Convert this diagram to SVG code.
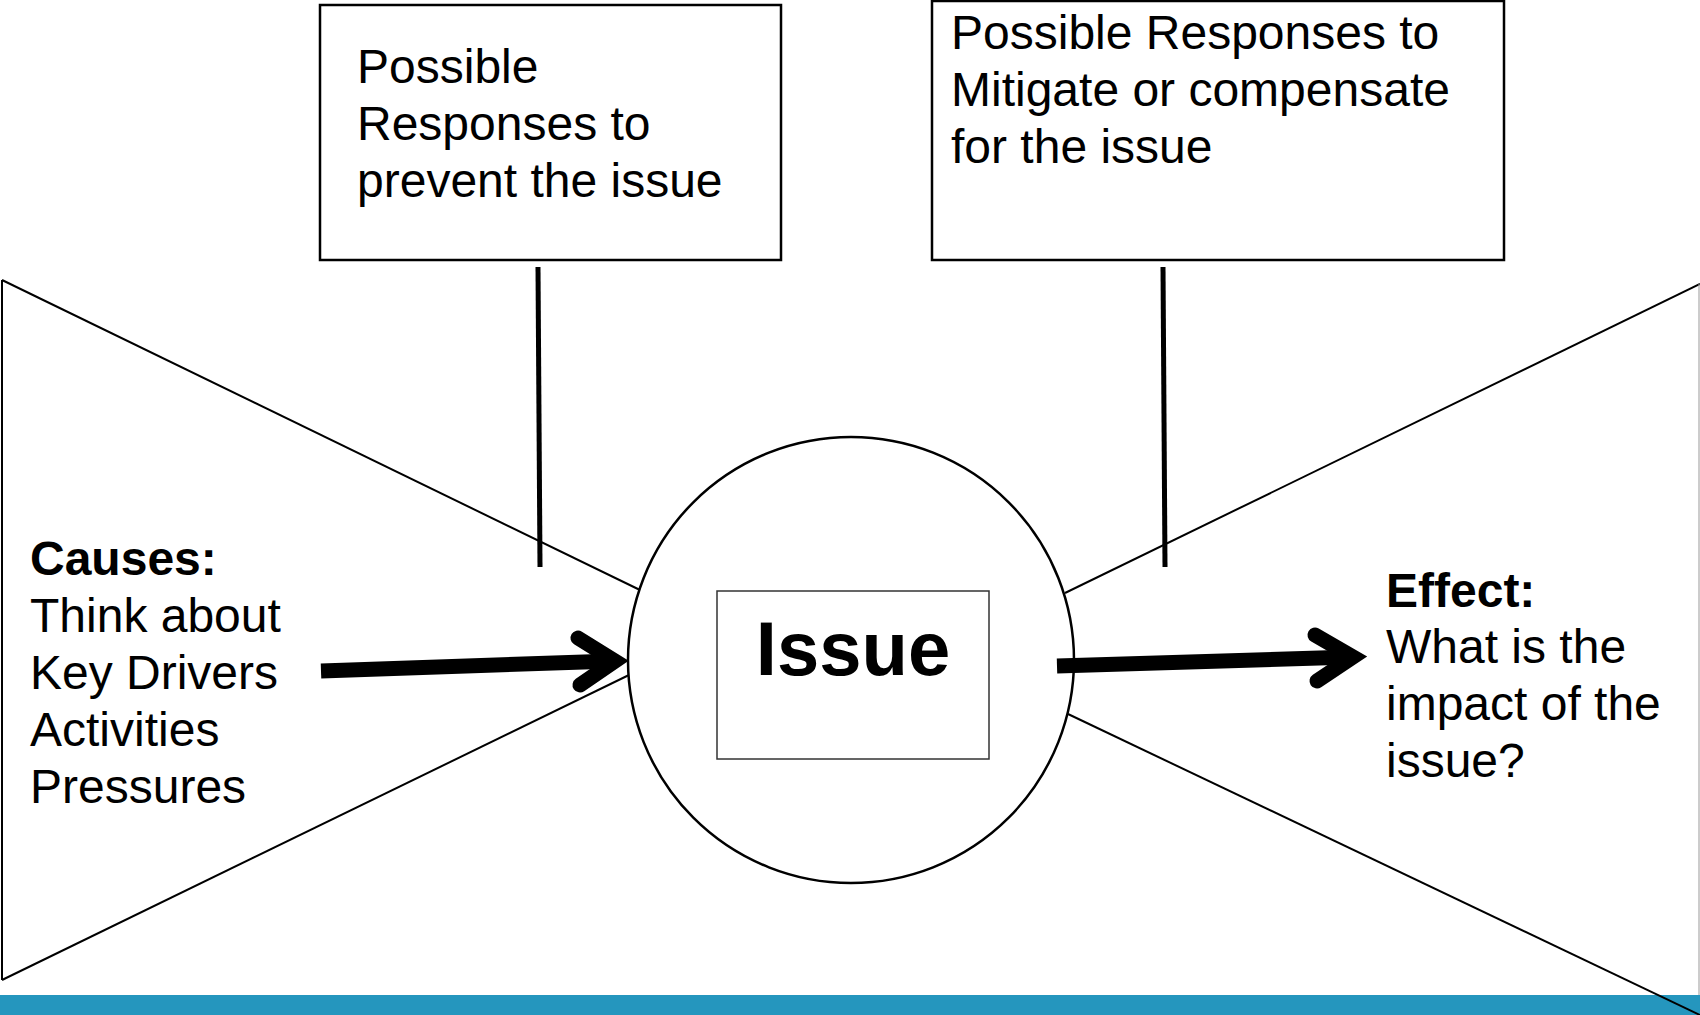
<svg xmlns="http://www.w3.org/2000/svg" width="1700" height="1015" viewBox="0 0 1700 1015">
<style>
  .t { font-family: "Liberation Sans", Arial, sans-serif; font-size: 48px; fill: #000; }
  .b { font-weight: bold; }
  .box { fill: #fff; stroke: #000; stroke-width: 2.5; }
  .thin { stroke: #000; stroke-width: 2; fill: none; }
  .stub { stroke: #000; stroke-width: 5; fill: none; }
  .shaft { stroke: #000; stroke-width: 15; fill: none; }
  .head { stroke: #000; stroke-width: 15; fill: none; stroke-linecap: round; stroke-linejoin: miter; stroke-miterlimit: 10; }
</style>
<rect x="0" y="0" width="1700" height="1015" fill="#fff"/>
<rect id="band" x="0" y="995" width="1700" height="20" fill="#2596be"/>

<g id="bowtie">
  <line class="thin" x1="2" y1="280" x2="2" y2="980"/>
  <line class="thin" x1="2" y1="280" x2="640" y2="590"/>
  <line class="thin" x1="2" y1="980" x2="629" y2="675"/>
  <line class="thin" x1="1065" y1="593" x2="1700" y2="284"/>
  <line class="thin" x1="1068" y1="714" x2="1700" y2="1015"/>
  <line x1="1699" y1="284" x2="1699" y2="995" stroke="#999" stroke-width="1"/>
</g>

<g id="prevent">
  <rect class="box" x="320" y="5" width="461" height="255"/>
  <text class="t" x="357" y="83">Possible</text>
  <text class="t" x="357" y="140">Responses to</text>
  <text class="t" x="357" y="197">prevent the issue</text>
</g>

<g id="mitigate">
  <rect class="box" x="932" y="1" width="572" height="259"/>
  <text class="t" x="951" y="49">Possible Responses to</text>
  <text class="t" x="951" y="106">Mitigate or compensate</text>
  <text class="t" x="951" y="163">for the issue</text>
</g>

<g id="issue">
  <circle cx="851" cy="660" r="223" fill="#fff" stroke="#000" stroke-width="2.5"/>
  <rect x="717" y="591" width="272" height="168" fill="#fff" stroke="#333" stroke-width="1.5"/>
  <text class="t b" x="853" y="675" text-anchor="middle" style="font-size:76px">Issue</text>
</g>

<g id="causes">
  <text class="t b" x="30" y="575">Causes:</text>
  <text class="t" x="30" y="632">Think about</text>
  <text class="t" x="30" y="689">Key Drivers</text>
  <text class="t" x="30" y="746">Activities</text>
  <text class="t" x="30" y="803">Pressures</text>
</g>

<g id="effect">
  <text class="t b" x="1386" y="607">Effect:</text>
  <text class="t" x="1386" y="663">What is the</text>
  <text class="t" x="1386" y="720">impact of the</text>
  <text class="t" x="1386" y="777">issue?</text>
</g>

<g id="connectors">
  <line class="stub" x1="538" y1="267" x2="540" y2="567"/>
  <line class="stub" x1="1163" y1="267" x2="1165" y2="567"/>
  <line class="shaft" x1="321" y1="671" x2="614" y2="661"/>
  <polyline class="head" points="578,638 615,661 580,685"/>
  <line class="shaft" x1="1057" y1="666" x2="1352" y2="657"/>
  <polyline class="head" points="1315,635 1353,657 1317,681"/>
</g>
</svg>
